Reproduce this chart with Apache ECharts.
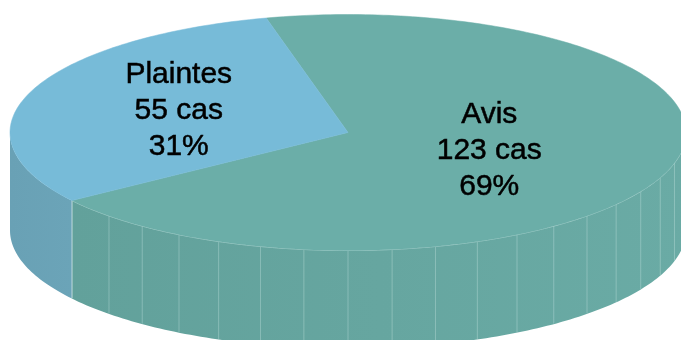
<!DOCTYPE html>
<html>
<head>
<meta charset="utf-8">
<script src="https://cdn.jsdelivr.net/npm/echarts@6/dist/echarts.min.js"></script>
<style>
  html, body { margin: 0; padding: 0; background: #ffffff; }
  #chart { width: 681px; height: 340px; }
</style>
</head>
<body>
<div id="chart"></div>
<script>
// Data
const categories = ['Avis', 'Plaintes'];
const cases = [123, 55];
const caseUnit = 'cas';

// Styling
const topColors = ['#6baea8', '#77bbd8'];
const sideColorsLeft = ['#62a19b', '#69a1b5'];
const sideColorsRight = ['#6aaba5', '#6ba4b8'];

// Disc geometry (pixels)
const disc = { cx: 348, cy: 132.5, rx: 338, ry: 118, depth: 98 };
const startAngle = 104;     // degrees, counter-clockwise from 3 o'clock
const facetStep = 7.5;      // spacing of side facets, degrees
const minFacetedSpan = 90;  // narrow walls are drawn as one flat face
const labelRadius = 0.49;
const labelShiftX = -14;
const labelShiftY = -2;

const total = cases.reduce((a, b) => a + b, 0);

// angular extents of each slice (clockwise from startAngle)
function sliceRange(i) {
  let s = startAngle;
  for (let k = 0; k < i; k++) s -= cases[k] / total * 360;
  const e = s - cases[i] / total * 360;
  return [e, s];
}

function pt(t, dy) {
  const r = t * Math.PI / 180;
  return [disc.cx + disc.rx * Math.cos(r), disc.cy - disc.ry * Math.sin(r) + (dy || 0)];
}

function arc(a, b, dy) {
  const pts = [];
  const n = Math.max(2, Math.ceil(Math.abs(b - a)));
  for (let j = 0; j <= n; j++) pts.push(pt(a + (b - a) * j / n, dy));
  return pts;
}

// front-facing part of [e, s]: where the wall is visible (sin < 0)
function frontParts(e, s) {
  const parts = [];
  for (let base = -720; base <= 720; base += 360) {
    const lo = Math.max(e, base - 180), hi = Math.min(s, base);
    if (hi > lo) parts.push([lo, hi]);
  }
  return parts;
}

function renderSide(params, api) {
  const i = params.dataIndex;
  const [e, s] = sliceRange(i);
  const children = [];
  frontParts(e, s).forEach(([lo, hi]) => {
    const top = arc(lo, hi, 0);
    const bottom = arc(hi, lo, disc.depth);
    const xs = top.map(p => p[0]);
    children.push({
      type: 'polygon',
      shape: { points: top.concat(bottom) },
      style: {
        fill: {
          type: 'linear', global: true,
          x: Math.min.apply(null, xs), y: 0, x2: Math.max.apply(null, xs), y2: 0,
          colorStops: [
            { offset: 0, color: sideColorsLeft[i] },
            { offset: 1, color: sideColorsRight[i] }
          ]
        }
      }
    });
    const faceted = hi - lo >= minFacetedSpan;
    if (faceted) {
      // vertical facet edges
      const first = Math.ceil(lo / facetStep) * facetStep;
      for (let t = first; t < hi; t += facetStep) {
        if (t - lo < 3 || hi - t < 3) continue;
        const p = pt(t, 0);
        children.push({
          type: 'line',
          shape: { x1: p[0], y1: p[1], x2: p[0], y2: p[1] + disc.depth - 0.5 },
          style: { stroke: 'rgba(215,238,235,0.32)', lineWidth: 1 }
        });
      }
      // rim highlight
      children.push({
        type: 'polyline',
        shape: { points: top },
        style: { stroke: 'rgba(225,242,240,0.55)', lineWidth: 1, fill: null }
      });
    }
    // slice boundary edge on the wall
    [lo, hi].forEach(t => {
      if (Math.abs(t % 180) < 0.5) return;
      const p = pt(t, 0);
      children.push({
        type: 'line',
        shape: { x1: p[0], y1: p[1], x2: p[0], y2: p[1] + disc.depth - 0.5 },
        style: { stroke: 'rgba(225,242,240,0.5)', lineWidth: 1 }
      });
    });
  });
  return { type: 'group', children };
}

function renderTop(params, api) {
  const i = params.dataIndex;
  const [e, s] = sliceRange(i);
  const value = api.value(1);
  const pts = [[disc.cx, disc.cy]].concat(arc(s, e, 0));
  const mid = (s + e) / 2 * Math.PI / 180;
  const lx = disc.cx + disc.rx * labelRadius * Math.cos(mid) + labelShiftX;
  const ly = disc.cy - disc.ry * labelRadius * Math.sin(mid) + labelShiftY;
  const pct = Math.round(value / total * 100);
  return {
    type: 'group',
    children: [
      {
        type: 'polygon',
        shape: { points: pts },
        style: { fill: topColors[i], stroke: topColors[i], lineWidth: 0.5 }
      },
      {
        type: 'text',
        z2: 10,
        style: {
          text: categories[i] + '\n' + value + ' ' + caseUnit + '\n' + pct + '%',
          x: lx, y: ly,
          align: 'center', verticalAlign: 'middle',
          fontFamily: '"Liberation Sans", Arial, sans-serif',
          fontSize: 30, lineHeight: 36,
          fill: '#000000',
          stroke: '#000000', lineWidth: 0.5
        }
      }
    ]
  };
}

const seriesData = categories.map((c, i) => [i, cases[i]]);

const chart = echarts.init(document.getElementById('chart'), null, { renderer: 'canvas' });
chart.setOption({
  animation: false,
  backgroundColor: '#ffffff',
  series: [
    { type: 'custom', coordinateSystem: 'none', z: 1, renderItem: renderSide, data: seriesData },
    { type: 'custom', coordinateSystem: 'none', z: 2, renderItem: renderTop, data: seriesData }
  ]
});
</script>
</body>
</html>
